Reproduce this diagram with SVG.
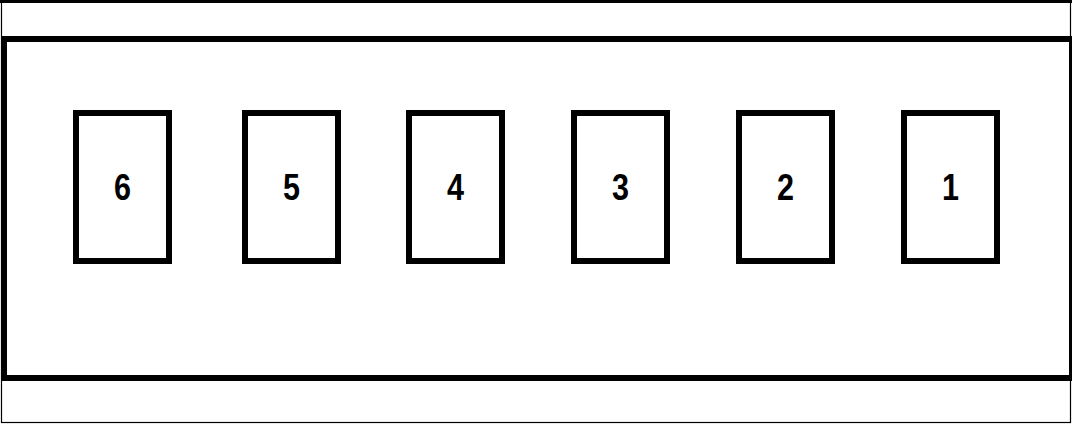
<svg xmlns="http://www.w3.org/2000/svg" width="1072" height="424" viewBox="0 0 1072 424">
<style>
.slot{fill:#fff;stroke:#000;stroke-width:6}
.lbl{font-family:"Liberation Sans",Arial,sans-serif;font-weight:bold;font-size:36px;text-anchor:middle;fill:#000}
</style>
<rect x="0" y="0" width="1072" height="424" fill="#fff"/>
<g id="frame">
<rect x="1.5" y="1.5" width="1069" height="421" fill="none" stroke="#000" stroke-width="1.2"/>
<line x1="0" y1="1.5" x2="1072" y2="1.5" stroke="#000" stroke-width="3"/>
<rect x="4" y="39" width="1068" height="339" fill="#fff" stroke="#000" stroke-width="6"/>
</g>
<g id="n6"><rect class="slot" x="76" y="113" width="93" height="148"/><text class="lbl" x="122.5" y="200" textLength="17" lengthAdjust="spacingAndGlyphs">6</text></g>
<g id="n5"><rect class="slot" x="245" y="113" width="93" height="148"/><text class="lbl" x="291.5" y="200" textLength="17" lengthAdjust="spacingAndGlyphs">5</text></g>
<g id="n4"><rect class="slot" x="409" y="113" width="93" height="148"/><text class="lbl" x="455.5" y="200" textLength="17" lengthAdjust="spacingAndGlyphs">4</text></g>
<g id="n3"><rect class="slot" x="574" y="113" width="93" height="148"/><text class="lbl" x="620.5" y="200" textLength="17" lengthAdjust="spacingAndGlyphs">3</text></g>
<g id="n2"><rect class="slot" x="739" y="113" width="93" height="148"/><text class="lbl" x="785.5" y="200" textLength="17" lengthAdjust="spacingAndGlyphs">2</text></g>
<g id="n1"><rect class="slot" x="904" y="113" width="93" height="148"/><text class="lbl" x="950.5" y="200" textLength="17" lengthAdjust="spacingAndGlyphs">1</text></g>
<g id="connectors"></g>
</svg>
